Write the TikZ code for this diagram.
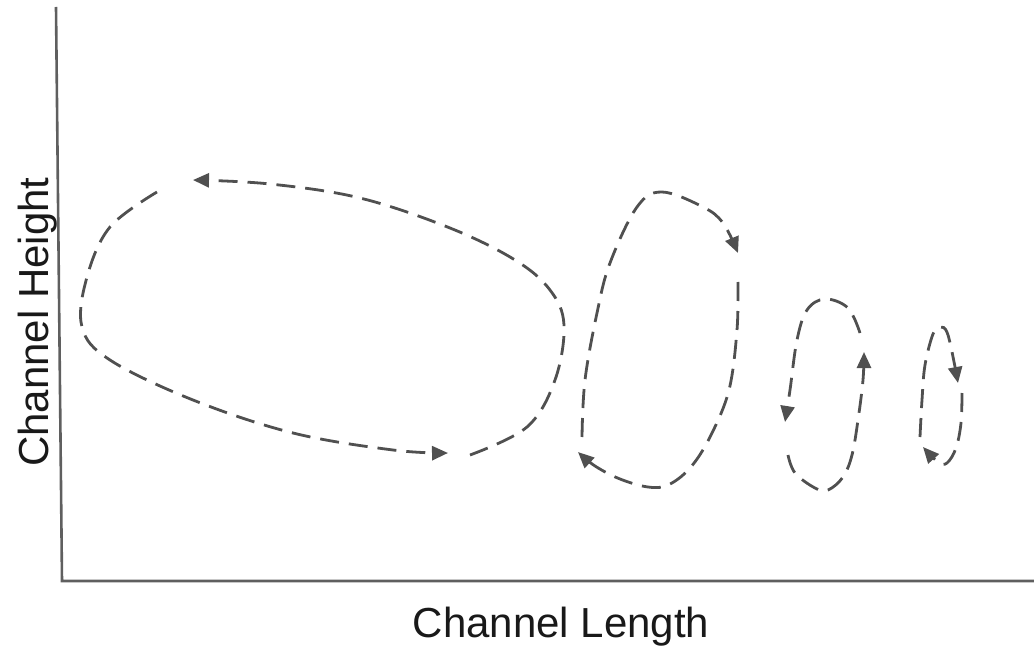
\documentclass[tikz,border=0pt]{standalone}
\usepackage{fontspec}
\setmainfont{Liberation Sans}
\usetikzlibrary{arrows.meta}
\definecolor{flow}{RGB}{80,80,80}
\definecolor{axiscol}{RGB}{95,95,95}
\definecolor{lbl}{RGB}{25,25,25}
\begin{document}
\begin{tikzpicture}[x=1pt,y=-1pt,
  flowline/.style={draw=flow, line width=2.8pt, dash pattern=on 19pt off 10pt,
    -{Triangle[length=16pt,width=14pt]}},
  axisline/.style={draw=axiscol, line width=2.6pt},
  axislabel/.style={text=lbl, font=\fontsize{42}{48}\selectfont, inner sep=0pt}]
\useasboundingbox (0,0) rectangle (1034,647);
% axes
\coordinate (ytop) at (56,7);
\coordinate (origin) at (62,581);
\coordinate (xend) at (1034,581);
\draw[axisline] (ytop) -- (origin) -- (xend);
\node[axislabel, anchor=base] (xlabel) at (561,637) {Channel Length};
\node[axislabel, anchor=base, rotate=90] (ylabel) at (48,322) {Channel Height};
% loop 1 (large)
\draw[flowline] plot[smooth, tension=0.6] coordinates {(470,455) (527,427) (555,380) (564,325) (550,290) (515,260) (450,228) (360,198) (270,184) (193,180)};
\draw[flowline] plot[smooth, tension=0.6] coordinates {(157,192) (110,227) (87,277) (82,327) (110,360) (193,400) (293,433) (393,450) (448,453)};
% loop 2
\draw[flowline] plot[smooth, tension=0.6] coordinates {(582,437) (585,380) (597,313) (610,263) (637,207) (662,192) (703,207) (723,223) (738,253)};
\draw[flowline] plot[smooth, tension=0.6] coordinates {(738,282) (737,330) (729,390) (710,437) (690,468) (668,485) (648,487) (620,479) (595,466) (578,452)};
% loop 3
\draw[flowline] plot[smooth, tension=0.6] coordinates {(788,455) (795,473) (815,488) (828,490) (843,477) (852,455) (858,420) (863,380) (864,352)};
\draw[flowline] plot[smooth, tension=0.6] coordinates {(860,333) (848,308) (825,299) (807,310) (797,340) (790,390) (785,422)};
% loop 4
\draw[flowline] plot[smooth, tension=0.6] coordinates {(920,437) (922,400) (925,365) (933,334) (940,327) (948,335) (958,383)};
\draw[flowline] plot[smooth, tension=0.6] coordinates {(962,393) (961,423) (956,448) (947,463) (938,462) (923,447)};
\end{tikzpicture}
\end{document}
